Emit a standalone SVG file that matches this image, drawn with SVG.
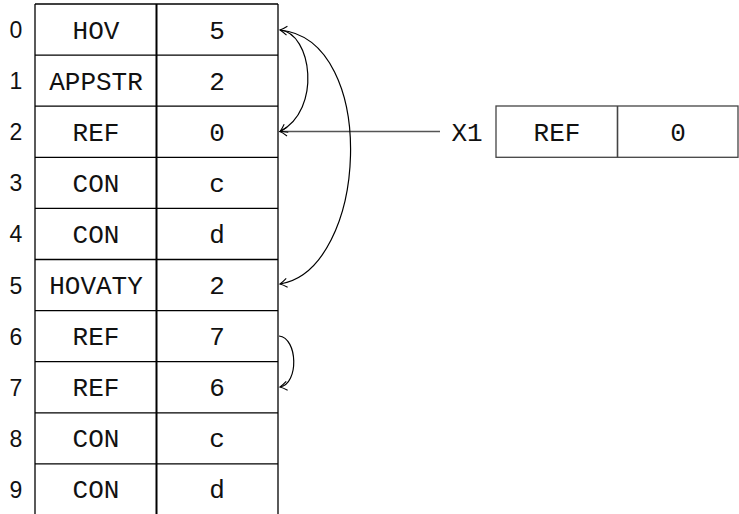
<svg xmlns="http://www.w3.org/2000/svg" width="739" height="514" viewBox="0 0 739 514">
<defs>
<style>
.grid{stroke:#000;stroke-width:1.3;fill:none}
.mid{stroke:#000;stroke-width:2;fill:none}
.t{font-family:"Liberation Mono","DejaVu Sans Mono",monospace;font-size:26px;text-anchor:middle;fill:#111}
.i{font-family:"Liberation Sans","DejaVu Sans",sans-serif;font-size:23px;text-anchor:middle;fill:#111}
.arc{stroke:#000;stroke-width:1.2;fill:none}
.gray{stroke:#555;stroke-width:1.5;fill:none}
.box{stroke:#444;stroke-width:1.3;fill:#fff}
</style>
<marker id="ah" viewBox="-10 -6 12 12" markerWidth="12" markerHeight="12" refX="0" refY="0" orient="auto-start-reverse" markerUnits="userSpaceOnUse">
<path d="M-7,-4.5 Q-2.5,-1 0,0 Q-2.5,1 -7,4.5" stroke="#000" stroke-width="1.1" fill="none"/>
</marker>
</defs>
<g id="table">
<line class="grid" x1="35" y1="4" x2="278" y2="4"/>
<line class="grid" x1="35" y1="55.1" x2="278" y2="55.1"/>
<line class="grid" x1="35" y1="106.2" x2="278" y2="106.2"/>
<line class="grid" x1="35" y1="157.3" x2="278" y2="157.3"/>
<line class="grid" x1="35" y1="208.4" x2="278" y2="208.4"/>
<line class="grid" x1="35" y1="259.5" x2="278" y2="259.5"/>
<line class="grid" x1="35" y1="310.6" x2="278" y2="310.6"/>
<line class="grid" x1="35" y1="361.7" x2="278" y2="361.7"/>
<line class="grid" x1="35" y1="412.8" x2="278" y2="412.8"/>
<line class="grid" x1="35" y1="463.9" x2="278" y2="463.9"/>
<line class="grid" x1="35" y1="4" x2="35" y2="514"/>
<line class="mid" x1="156.5" y1="4" x2="156.5" y2="514"/>
<line class="grid" x1="278" y1="4" x2="278" y2="514"/>
</g>
<g id="row0"><text class="i" x="16" y="38">0</text><text class="t" x="96" y="38.5">HOV</text><text class="t" x="217" y="38.5">5</text></g>
<g id="row1"><text class="i" x="16" y="89.1">1</text><text class="t" x="96" y="89.6">APPSTR</text><text class="t" x="217" y="89.6">2</text></g>
<g id="row2"><text class="i" x="16" y="140.2">2</text><text class="t" x="96" y="140.7">REF</text><text class="t" x="217" y="140.7">0</text></g>
<g id="row3"><text class="i" x="16" y="191.3">3</text><text class="t" x="96" y="191.8">CON</text><text class="t" x="217" y="191.8">c</text></g>
<g id="row4"><text class="i" x="16" y="242.4">4</text><text class="t" x="96" y="242.9">CON</text><text class="t" x="217" y="242.9">d</text></g>
<g id="row5"><text class="i" x="16" y="293.5">5</text><text class="t" x="96" y="294">HOVATY</text><text class="t" x="217" y="294">2</text></g>
<g id="row6"><text class="i" x="16" y="344.6">6</text><text class="t" x="96" y="345.1">REF</text><text class="t" x="217" y="345.1">7</text></g>
<g id="row7"><text class="i" x="16" y="395.7">7</text><text class="t" x="96" y="396.2">REF</text><text class="t" x="217" y="396.2">6</text></g>
<g id="row8"><text class="i" x="16" y="446.8">8</text><text class="t" x="96" y="447.3">CON</text><text class="t" x="217" y="447.3">c</text></g>
<g id="row9"><text class="i" x="16" y="497.9">9</text><text class="t" x="96" y="498.4">CON</text><text class="t" x="217" y="498.4">d</text></g>
<g id="x1">
<text class="t" x="467" y="140.5">X1</text>
<rect class="box" x="496" y="106" width="242" height="51.3"/>
<line stroke="#444" stroke-width="1.6" x1="617.5" y1="106" x2="617.5" y2="157.3"/>
<text class="t" x="557" y="140.5">REF</text>
<text class="t" x="678" y="140.5">0</text>
</g>
<g id="connectors">
<path class="gray" d="M440,131.5 L280,131.5" marker-end="url(#ah)"/>
<path class="arc" d="M280,30 C312,33 322,110 280,131.5" marker-end="url(#ah)"/>
<path class="arc" d="M280,30 C380,40 368,270 280,284" marker-start="url(#ah)" marker-end="url(#ah)"/>
<path class="arc" d="M279,336 C298,338 299,384 280,387" marker-end="url(#ah)"/>
</g>
</svg>
